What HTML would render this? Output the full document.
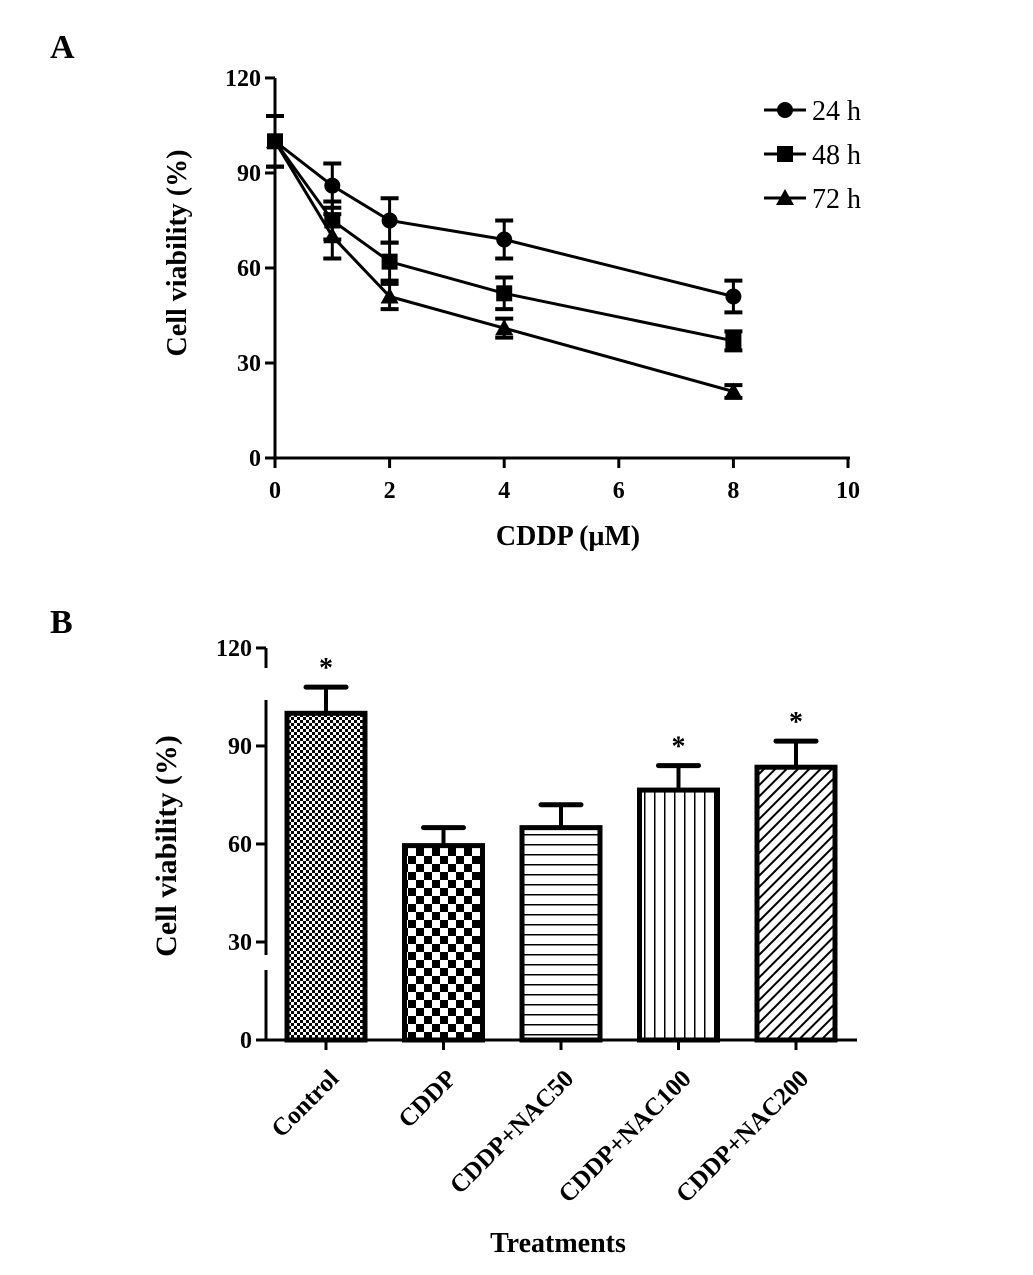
<!DOCTYPE html>
<html><head><meta charset="utf-8"><style>
body{margin:0;background:#fff;}
svg text{font-family:"Liberation Serif",serif;fill:#000;}
</style></head><body>
<svg width="1033" height="1270" viewBox="0 0 1033 1270" xmlns="http://www.w3.org/2000/svg">
<defs>
<pattern id="pFine" width="6" height="6" patternUnits="userSpaceOnUse"><rect width="6" height="6" fill="#fff"/><rect width="3" height="3" fill="#000"/><rect x="3" y="3" width="3" height="3" fill="#000"/></pattern>
<pattern id="pCoarse" width="16" height="16" patternUnits="userSpaceOnUse"><rect width="16" height="16" fill="#fff"/><rect width="8" height="8" fill="#000"/><rect x="8" y="8" width="8" height="8" fill="#000"/></pattern>
<pattern id="pH" width="10" height="10" patternUnits="userSpaceOnUse"><rect width="10" height="10" fill="#fff"/><rect y="4" width="10" height="1.5" fill="#000"/></pattern>
<pattern id="pV" width="10" height="10" patternUnits="userSpaceOnUse"><rect width="10" height="10" fill="#fff"/><rect x="4" width="1.5" height="10" fill="#000"/></pattern>
<pattern id="pD" width="8" height="8" patternUnits="userSpaceOnUse" patternTransform="rotate(45)"><rect width="8" height="8" fill="#fff"/><rect x="3" width="2" height="8" fill="#000"/></pattern>
</defs>
<text x="50" y="58" font-size="34" font-weight="bold">A</text>
<text x="50" y="633" font-size="34" font-weight="bold">B</text>
<g id="chartA"></g>
<g id="chartB"></g>
</svg>
<script>
const NS="http://www.w3.org/2000/svg";
function mk(p,t,a,txt){const e=document.createElementNS(NS,t);for(const k in a)e.setAttribute(k,a[k]);if(txt!==undefined)e.textContent=txt;p.appendChild(e);return e;}

// ---- Chart A data
const doses=[0,1,2,4,8];
const v24=[100,86,75,69,51];
const e24=[8,7,7,6,5];
const v48=[100,75,62,52,37];
const e48=[8,6,6,5,3];
const v72=[100,70,51,41,21];
const e72=[8,7,4,3,2];
const seriesNames=["24 h","48 h","72 h"];
const xTicksA=[0,2,4,6,8,10];
const yTicksA=[0,30,60,90,120];

const A=document.getElementById('chartA');
const ax=v=>275+v*57.3, ay=v=>458-v*3.167;
let l=mk(A,'line',{x1:275,y1:78,x2:275,y2:459,stroke:'#000','stroke-width':3});

l=mk(A,'line',{x1:274,y1:458,x2:850,y2:458,stroke:'#000','stroke-width':3});

yTicksA.forEach(t=>{mk(A,'line',{x1:265,y1:ay(t),x2:275,y2:ay(t),stroke:'#000','stroke-width':3});
 const tx=mk(A,'text',{x:261,y:ay(t)+8,'font-size':24,'font-weight':'bold','text-anchor':'end'},t);
 });
xTicksA.forEach(t=>{mk(A,'line',{x1:ax(t),y1:458,x2:ax(t),y2:468,stroke:'#000','stroke-width':3});
 const tx=mk(A,'text',{x:ax(t),y:498,'font-size':24,'font-weight':'bold','text-anchor':'middle'},t);
 });
let tt=mk(A,'text',{x:568,y:545,'font-size':28,'font-weight':'bold','text-anchor':'middle'},'CDDP (μM)');

tt=mk(A,'text',{x:0,y:0,'font-size':28,'font-weight':'bold','text-anchor':'middle',transform:'translate(186,253) rotate(-90)'},'Cell viability (%)');


function marker(g,type,x,y){
 if(type===0) return mk(g,'circle',{cx:x,cy:y,r:8,fill:'#000'});
 if(type===1) return mk(g,'rect',{x:x-8,y:y-8,width:16,height:16,fill:'#000'});
 return mk(g,'polygon',{points:`${x},${y-9} ${x-9},${y+7} ${x+9},${y+7}`,fill:'#000'});
}
[[v24,e24],[v48,e48],[v72,e72]].forEach((s,si)=>{
 const g=mk(A,'g',{});
 
 
 mk(g,'polyline',{points:doses.map((d,i)=>ax(d)+','+ay(s[0][i])).join(' '),fill:'none',stroke:'#000','stroke-width':3});
 doses.forEach((d,i)=>{
  const x=ax(d),yh=ay(s[0][i]+s[1][i]),yl=ay(s[0][i]-s[1][i]);
  mk(g,'line',{x1:x,y1:yh,x2:x,y2:yl,stroke:'#000','stroke-width':3});
  mk(g,'line',{x1:x-9,y1:yh,x2:x+9,y2:yh,stroke:'#000','stroke-width':4});
  mk(g,'line',{x1:x-9,y1:yl,x2:x+9,y2:yl,stroke:'#000','stroke-width':4});
  const m=marker(g,si,x,ay(s[0][i]));
  
 });
 const ly=110+si*44;
 const lg=mk(A,'g',{});
 
 mk(lg,'line',{x1:764,y1:ly,x2:806,y2:ly,stroke:'#000','stroke-width':3});
 marker(lg,si,785,ly);
 mk(lg,'text',{x:812,y:ly+10,'font-size':28},seriesNames[si]);
});

// ---- Chart B data
const cats=["Control","CDDP","CDDP+NAC50","CDDP+NAC100","CDDP+NAC200"];
const means=[100,59.5,65,76.5,83.5];
const errs=[8,5.5,7,7.5,8];
const stars=[true,false,false,true,true];
const yTicksB=[0,30,60,90,120];
const fills=['url(#pFine)','url(#pCoarse)','url(#pH)','url(#pV)','url(#pD)'];

const B=document.getElementById('chartB');
const by=v=>1040-v*3.267;
const bc=i=>326+i*117.5, bw=78;
[[648,668],[700,955],[970,1041]].forEach(s=>{
 l=mk(B,'line',{x1:266,y1:s[0],x2:266,y2:s[1],stroke:'#000','stroke-width':3});
 });
l=mk(B,'line',{x1:265,y1:1040,x2:857,y2:1040,stroke:'#000','stroke-width':3});

yTicksB.forEach(t=>{mk(B,'line',{x1:256,y1:by(t),x2:266,y2:by(t),stroke:'#000','stroke-width':3});
 const tx=mk(B,'text',{x:252,y:by(t)+8,'font-size':24,'font-weight':'bold','text-anchor':'end'},t);
 });
cats.forEach((c,i)=>{
 const x=bc(i);
 const top=by(means[i]);
 const eb=by(means[i]+errs[i]);
 const el=mk(B,'line',{x1:x,y1:eb,x2:x,y2:top,stroke:'#000','stroke-width':4});
 
 mk(B,'line',{x1:x-20,y1:eb,x2:x+20,y2:eb,stroke:'#000','stroke-width':5,'stroke-linecap':'round'});
 const r=mk(B,'rect',{x:x-bw/2,y:top,width:bw,height:1040-top,fill:fills[i],stroke:'#000','stroke-width':5});
 
 
 if(stars[i]){const s=mk(B,'text',{x:x,y:eb-10,'font-size':28,'font-weight':'bold','text-anchor':'middle'},'*');
  }
 mk(B,'line',{x1:x,y1:1040,x2:x,y2:1050,stroke:'#000','stroke-width':3});
 const tx=mk(B,'text',{x:0,y:0,'font-size':25,'font-weight':'bold','text-anchor':'end',transform:`translate(${x+14},1080) rotate(-45)`},c);
 
});
tt=mk(B,'text',{x:558,y:1252,'font-size':28,'font-weight':'bold','text-anchor':'middle'},'Treatments');

tt=mk(B,'text',{x:0,y:0,'font-size':30,'font-weight':'bold','text-anchor':'middle',transform:'translate(176,846) rotate(-90)'},'Cell viability (%)');

</script>
</body></html>
